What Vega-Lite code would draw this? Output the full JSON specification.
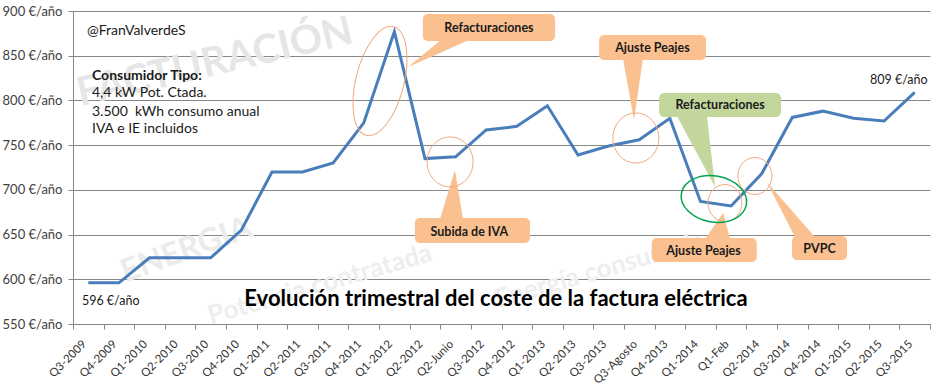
{
  "$schema": "https://vega.github.io/schema/vega-lite/v6.json",
  "width": 857,
  "height": 313,
  "autosize": {"type": "none"},
  "padding": {"left": 73, "top": 11, "right": 4, "bottom": 65},
  "background": "white",
  "config": {"view": {"stroke": null}, "font": "Lato", "text": {"font": "Lato"}, "axis": {"labelOverlap": false}},
  "resolve": {"axis": {"x": "independent", "y": "independent"}},
  "datasets": {
    "serie": [
      {"periodo": "Q3-2009", "i": 0, "coste": 596},
      {"periodo": "Q4-2009", "i": 1, "coste": 596},
      {"periodo": "Q1-2010", "i": 2, "coste": 624},
      {"periodo": "Q2-2010", "i": 3, "coste": 624},
      {"periodo": "Q3-2010", "i": 4, "coste": 624},
      {"periodo": "Q4-2010", "i": 5, "coste": 655},
      {"periodo": "Q1-2011", "i": 6, "coste": 720},
      {"periodo": "Q2-2011", "i": 7, "coste": 720},
      {"periodo": "Q3-2011", "i": 8, "coste": 730},
      {"periodo": "Q4-2011", "i": 9, "coste": 775},
      {"periodo": "Q1-2012", "i": 10, "coste": 877},
      {"periodo": "Q2-2012", "i": 11, "coste": 735},
      {"periodo": "Q2-Junio", "i": 12, "coste": 737},
      {"periodo": "Q3-2012", "i": 13, "coste": 767},
      {"periodo": "Q4-2012", "i": 14, "coste": 771},
      {"periodo": "Q1-2013", "i": 15, "coste": 794},
      {"periodo": "Q2-2013", "i": 16, "coste": 739},
      {"periodo": "Q3-2013", "i": 17, "coste": 749},
      {"periodo": "Q3-Agosto", "i": 18, "coste": 756},
      {"periodo": "Q4-2013", "i": 19, "coste": 780},
      {"periodo": "Q1-2014", "i": 20, "coste": 687},
      {"periodo": "Q1-Feb", "i": 21, "coste": 682},
      {"periodo": "Q2-2014", "i": 22, "coste": 718},
      {"periodo": "Q3-2014", "i": 23, "coste": 781},
      {"periodo": "Q4-2014", "i": 24, "coste": 788},
      {"periodo": "Q1-2015", "i": 25, "coste": 780},
      {"periodo": "Q2-2015", "i": 26, "coste": 777},
      {"periodo": "Q3-2015", "i": 27, "coste": 809}
    ],
    "globos": [
      {"id": "refact1", "tipo": "naranja", "x1": 10.93, "x2": 15.25, "y1": 896.6, "y2": 866.5, "tx": 13.09, "ty": 881, "label": "Refacturaciones"},
      {"id": "peajes1", "tipo": "naranja", "x1": 16.69, "x2": 20.18, "y1": 873.2, "y2": 845.2, "tx": 18.43, "ty": 858.5, "label": "Ajuste Peajes"},
      {"id": "iva", "tipo": "naranja", "x1": 10.67, "x2": 14.43, "y1": 668.5, "y2": 640.6, "tx": 12.45, "ty": 653, "label": "Subida de IVA"},
      {"id": "refact2", "tipo": "verde", "x1": 18.65, "x2": 22.63, "y1": 808.3, "y2": 781.5, "tx": 20.64, "ty": 795, "label": "Refacturaciones"},
      {"id": "peajes2", "tipo": "naranja", "x1": 18.41, "x2": 21.84, "y1": 646.2, "y2": 619.3, "tx": 20.1, "ty": 632, "label": "Ajuste Peajes"},
      {"id": "pvpc", "tipo": "naranja", "x1": 22.99, "x2": 24.79, "y1": 648.4, "y2": 621.6, "tx": 23.89, "ty": 634, "label": "PVPC"}
    ],
    "punteros": [
      {"id": "refact1", "tipo": "naranja", "orden": 1, "x": 11.55, "y": 868.5},
      {"id": "refact1", "tipo": "naranja", "orden": 2, "x": 12.5, "y": 868.5},
      {"id": "refact1", "tipo": "naranja", "orden": 3, "x": 10.45, "y": 837.4},
      {"id": "peajes1", "tipo": "naranja", "orden": 1, "x": 17.47, "y": 846.5},
      {"id": "peajes1", "tipo": "naranja", "orden": 2, "x": 18.12, "y": 846.5},
      {"id": "peajes1", "tipo": "naranja", "orden": 3, "x": 17.83, "y": 778.1},
      {"id": "iva", "tipo": "naranja", "orden": 1, "x": 11.49, "y": 667.5},
      {"id": "iva", "tipo": "naranja", "orden": 2, "x": 12.24, "y": 667.5},
      {"id": "iva", "tipo": "naranja", "orden": 3, "x": 11.98, "y": 722.2},
      {"id": "refact2", "tipo": "verde", "orden": 1, "x": 19.23, "y": 782.5},
      {"id": "refact2", "tipo": "verde", "orden": 2, "x": 20.21, "y": 782.5},
      {"id": "refact2", "tipo": "verde", "orden": 3, "x": 20.48, "y": 703.2},
      {"id": "peajes2", "tipo": "naranja", "orden": 1, "x": 20.15, "y": 645},
      {"id": "peajes2", "tipo": "naranja", "orden": 2, "x": 20.97, "y": 645},
      {"id": "peajes2", "tipo": "naranja", "orden": 3, "x": 20.74, "y": 674.1},
      {"id": "pvpc", "tipo": "naranja", "orden": 1, "x": 23.09, "y": 647.3},
      {"id": "pvpc", "tipo": "naranja", "orden": 2, "x": 23.74, "y": 647.3},
      {"id": "pvpc", "tipo": "naranja", "orden": 3, "x": 22.17, "y": 708.8}
    ],
    "elipses": [
      {"id": "iva", "x": 11.82, "y": 731.2},
      {"id": "peajes1", "x": 17.89, "y": 758},
      {"id": "peajes2", "x": 20.8, "y": 685.3},
      {"id": "pvpc", "x": 21.78, "y": 715.5},
      {"id": "refact1", "x": 9.53, "y": 821.7},
      {"id": "refact2", "x": 20.44, "y": 689.8}
    ],
    "notas": [
      {"texto": "@FranValverdeS", "x": -0.04, "y": 877.6},
      {"texto": "4,4 kW Pot. Ctada.", "x": 0.12, "y": 808},
      {"texto": "3.500\u00a0 kWh consumo anual", "x": 0.12, "y": 787.4},
      {"texto": "IVA e IE incluidos", "x": 0.12, "y": 767.7}
    ],
    "negrita": [
      {"texto": "Consumidor Tipo:", "x": 0.12, "y": 827.7}
    ],
    "valores": [
      {"texto": "596 €/año", "x": -0.21, "y": 575.7},
      {"texto": "809 €/año", "x": 25.54, "y": 822.8}
    ],
    "titulo": [
      {"texto": "Evolución trimestral del coste de la factura eléctrica", "x": 13.32, "y": 577.5}
    ],
    "marca1": [
      {"texto": "FACTURACIÓN", "x": 4.14, "y": 842}
    ],
    "marca2": [
      {"texto": "ENERGIA", "x": 3.2, "y": 633}
    ],
    "marca3": [
      {"texto": "Potencia contratada", "x": 7.57, "y": 594},
      {"texto": "Energía consumida", "x": 16.72, "y": 610}
    ]
  },
  "layer": [
    {
      "data": {"name": "marca1"},
      "mark": {"type": "text", "fontSize": 40, "fontWeight": "bold", "color": "#e6e6e6", "angle": -13, "align": "center", "baseline": "middle"},
      "encoding": {
        "x": {"field": "x", "type": "quantitative", "scale": {"domain": [-0.5, 27.5], "zero": false, "nice": false}, "axis": null},
        "y": {"field": "y", "type": "quantitative", "scale": {"domain": [550, 900], "zero": false, "nice": false}, "axis": null},
        "text": {"field": "texto"}
      }
    },
    {
      "data": {"name": "marca2"},
      "mark": {"type": "text", "fontSize": 32, "fontWeight": "bold", "color": "#ebebeb", "angle": -20, "align": "center", "baseline": "middle"},
      "encoding": {
        "x": {"field": "x", "type": "quantitative", "scale": {"domain": [-0.5, 27.5], "zero": false, "nice": false}, "axis": null},
        "y": {"field": "y", "type": "quantitative", "scale": {"domain": [550, 900], "zero": false, "nice": false}, "axis": null},
        "text": {"field": "texto"}
      }
    },
    {
      "data": {"name": "marca3"},
      "mark": {"type": "text", "fontSize": 26, "fontWeight": "bold", "color": "#eeeeee", "angle": -16, "align": "center", "baseline": "middle"},
      "encoding": {
        "x": {"field": "x", "type": "quantitative", "scale": {"domain": [-0.5, 27.5], "zero": false, "nice": false}, "axis": null},
        "y": {"field": "y", "type": "quantitative", "scale": {"domain": [550, 900], "zero": false, "nice": false}, "axis": null},
        "text": {"field": "texto"}
      }
    },
    {
      "data": {"name": "serie"},
      "mark": {"type": "line", "color": "#4A7EBB", "strokeWidth": 3},
      "encoding": {
        "x": {
          "field": "i", "type": "quantitative",
          "scale": {"domain": [-0.5, 27.5], "zero": false, "nice": false},
          "axis": {
            "orient": "bottom",
            "values": [-0.5, 0.5, 1.5, 2.5, 3.5, 4.5, 5.5, 6.5, 7.5, 8.5, 9.5, 10.5, 11.5, 12.5, 13.5, 14.5, 15.5, 16.5, 17.5, 18.5, 19.5, 20.5, 21.5, 22.5, 23.5, 24.5, 25.5, 26.5, 27.5],
            "labelExpr": "['Q3-2009','Q4-2009','Q1-2010','Q2-2010','Q3-2010','Q4-2010','Q1-2011','Q2-2011','Q3-2011','Q4-2011','Q1-2012','Q2-2012','Q2-Junio','Q3-2012','Q4-2012','Q1-2013','Q2-2013','Q3-2013','Q3-Agosto','Q4-2013','Q1-2014','Q1-Feb','Q2-2014','Q3-2014','Q4-2014','Q1-2015','Q2-2015','Q3-2015'][datum.value + 0.5] || ''",
            "labelAngle": -45, "labelAlign": "right", "labelBaseline": "top",
            "labelOffset": 7, "labelPadding": 9, "labelOverlap": false, "labelBound": false, "labelFlush": false,
            "labelFontSize": 11.5, "labelColor": "#333333", "labelFont": "Lato",
            "tickSize": 5, "tickColor": "#878787", "domainColor": "#878787",
            "grid": false, "title": null
          }
        },
        "y": {
          "field": "coste", "type": "quantitative",
          "scale": {"domain": [550, 900], "zero": false, "nice": false},
          "axis": {
            "orient": "left",
            "values": [550, 600, 650, 700, 750, 800, 850, 900],
            "labelExpr": "datum.value + ' €/año'",
            "labelFontSize": 13, "labelColor": "#404040", "labelFont": "Lato", "labelPadding": 6,
            "tickSize": 5, "tickColor": "#878787", "domainColor": "#878787",
            "grid": true, "gridColor": "#878787", "gridWidth": 1, "gridOpacity": 1, "title": null
          }
        }
      }
    },
    {
      "data": {"name": "punteros"},
      "mark": {"type": "line", "filled": true, "strokeWidth": 0, "interpolate": "linear-closed"},
      "encoding": {
        "x": {"field": "x", "type": "quantitative", "scale": {"domain": [-0.5, 27.5], "zero": false, "nice": false}, "axis": null},
        "y": {"field": "y", "type": "quantitative", "scale": {"domain": [550, 900], "zero": false, "nice": false}, "axis": null},
        "detail": {"field": "id"},
        "order": {"field": "orden"},
        "color": {"field": "tipo", "type": "nominal", "scale": {"domain": ["naranja", "verde"], "range": ["#FAC090", "#C3D69B"]}, "legend": null}
      }
    },
    {
      "data": {"name": "globos"},
      "mark": {"type": "rect", "cornerRadius": 5},
      "encoding": {
        "x": {"field": "x1", "type": "quantitative", "scale": {"domain": [-0.5, 27.5], "zero": false, "nice": false}, "axis": null},
        "x2": {"field": "x2"},
        "y": {"field": "y1", "type": "quantitative", "scale": {"domain": [550, 900], "zero": false, "nice": false}, "axis": null},
        "y2": {"field": "y2"},
        "color": {"field": "tipo", "type": "nominal", "scale": {"domain": ["naranja", "verde"], "range": ["#FAC090", "#C3D69B"]}, "legend": null}
      }
    },
    {
      "data": {"name": "globos"},
      "mark": {"type": "text", "fontSize": 12.5, "fontWeight": "bold", "color": "#1a1a1a", "align": "center", "baseline": "middle"},
      "encoding": {
        "x": {"field": "tx", "type": "quantitative", "scale": {"domain": [-0.5, 27.5], "zero": false, "nice": false}, "axis": null},
        "y": {"field": "ty", "type": "quantitative", "scale": {"domain": [550, 900], "zero": false, "nice": false}, "axis": null},
        "text": {"field": "label"}
      }
    },
    {
      "data": {"name": "elipses"},
      "transform": [{"filter": "datum.id === 'iva' || datum.id === 'peajes1'"}],
      "mark": {"type": "point", "shape": "M-0.92,0C-0.92,-0.5523 -0.5081,-1 0,-1C0.5081,-1 0.92,-0.5523 0.92,0C0.92,0.5523 0.5081,1 0,1C-0.5081,1 -0.92,0.5523 -0.92,0Z", "size": 2500, "filled": false, "stroke": "#F2A97E", "strokeWidth": 1, "opacity": 1},
      "encoding": {
        "x": {"field": "x", "type": "quantitative", "scale": {"domain": [-0.5, 27.5], "zero": false, "nice": false}, "axis": null},
        "y": {"field": "y", "type": "quantitative", "scale": {"domain": [550, 900], "zero": false, "nice": false}, "axis": null}
      }
    },
    {
      "data": {"name": "elipses"},
      "transform": [{"filter": "datum.id === 'peajes2' || datum.id === 'pvpc'"}],
      "mark": {"type": "point", "shape": "M-0.92,0C-0.92,-0.5523 -0.5081,-1 0,-1C0.5081,-1 0.92,-0.5523 0.92,0C0.92,0.5523 0.5081,1 0,1C-0.5081,1 -0.92,0.5523 -0.92,0Z", "size": 1369, "filled": false, "stroke": "#F2A97E", "strokeWidth": 1, "opacity": 1},
      "encoding": {
        "x": {"field": "x", "type": "quantitative", "scale": {"domain": [-0.5, 27.5], "zero": false, "nice": false}, "axis": null},
        "y": {"field": "y", "type": "quantitative", "scale": {"domain": [550, 900], "zero": false, "nice": false}, "axis": null}
      }
    },
    {
      "data": {"name": "elipses"},
      "transform": [{"filter": "datum.id === 'refact1'"}],
      "mark": {"type": "point", "shape": "M-0.43,0C-0.43,-0.5523 -0.2375,-1 0,-1C0.2375,-1 0.43,-0.5523 0.43,0C0.43,0.5523 0.2375,1 0,1C-0.2375,1 -0.43,0.5523 -0.43,0Z", "size": 12544, "angle": 14, "filled": false, "stroke": "#F2A97E", "strokeWidth": 1, "opacity": 1},
      "encoding": {
        "x": {"field": "x", "type": "quantitative", "scale": {"domain": [-0.5, 27.5], "zero": false, "nice": false}, "axis": null},
        "y": {"field": "y", "type": "quantitative", "scale": {"domain": [550, 900], "zero": false, "nice": false}, "axis": null}
      }
    },
    {
      "data": {"name": "elipses"},
      "transform": [{"filter": "datum.id === 'refact2'"}],
      "mark": {"type": "point", "shape": "M-1,0C-1,-0.3866 -0.5523,-0.7 0,-0.7C0.5523,-0.7 1,-0.3866 1,0C1,0.3866 0.5523,0.7 0,0.7C-0.5523,0.7 -1,0.3866 -1,0Z", "size": 4356, "angle": 10, "filled": false, "stroke": "#00A550", "strokeWidth": 1.5, "opacity": 1},
      "encoding": {
        "x": {"field": "x", "type": "quantitative", "scale": {"domain": [-0.5, 27.5], "zero": false, "nice": false}, "axis": null},
        "y": {"field": "y", "type": "quantitative", "scale": {"domain": [550, 900], "zero": false, "nice": false}, "axis": null}
      }
    },
    {
      "data": {"name": "notas"},
      "mark": {"type": "text", "fontSize": 14, "color": "#1a1a1a", "align": "left", "baseline": "middle"},
      "encoding": {
        "x": {"field": "x", "type": "quantitative", "scale": {"domain": [-0.5, 27.5], "zero": false, "nice": false}, "axis": null},
        "y": {"field": "y", "type": "quantitative", "scale": {"domain": [550, 900], "zero": false, "nice": false}, "axis": null},
        "text": {"field": "texto"}
      }
    },
    {
      "data": {"name": "negrita"},
      "mark": {"type": "text", "fontSize": 14, "fontWeight": "bold", "color": "#1a1a1a", "align": "left", "baseline": "middle"},
      "encoding": {
        "x": {"field": "x", "type": "quantitative", "scale": {"domain": [-0.5, 27.5], "zero": false, "nice": false}, "axis": null},
        "y": {"field": "y", "type": "quantitative", "scale": {"domain": [550, 900], "zero": false, "nice": false}, "axis": null},
        "text": {"field": "texto"}
      }
    },
    {
      "data": {"name": "valores"},
      "mark": {"type": "text", "fontSize": 12.5, "color": "#1a1a1a", "align": "left", "baseline": "middle"},
      "encoding": {
        "x": {"field": "x", "type": "quantitative", "scale": {"domain": [-0.5, 27.5], "zero": false, "nice": false}, "axis": null},
        "y": {"field": "y", "type": "quantitative", "scale": {"domain": [550, 900], "zero": false, "nice": false}, "axis": null},
        "text": {"field": "texto"}
      }
    },
    {
      "data": {"name": "titulo"},
      "mark": {"type": "text", "fontSize": 22, "fontWeight": "bold", "color": "#000000", "align": "center", "baseline": "middle"},
      "encoding": {
        "x": {"field": "x", "type": "quantitative", "scale": {"domain": [-0.5, 27.5], "zero": false, "nice": false}, "axis": null},
        "y": {"field": "y", "type": "quantitative", "scale": {"domain": [550, 900], "zero": false, "nice": false}, "axis": null},
        "text": {"field": "texto"}
      }
    }
  ]
}
